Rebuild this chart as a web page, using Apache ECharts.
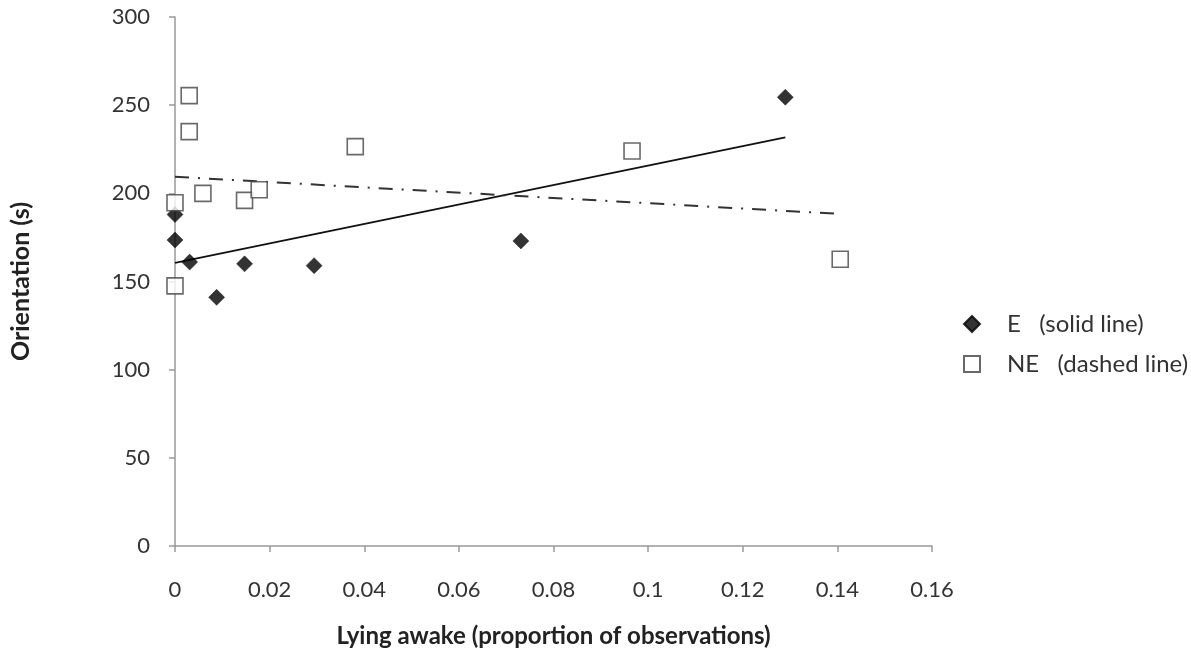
<!DOCTYPE html>
<html>
<head>
<meta charset="utf-8">
<script src="https://cdn.jsdelivr.net/npm/echarts@6/dist/echarts.min.js"></script>
<style>
html,body{margin:0;padding:0;background:#fff;}
#chart{width:1191px;height:658px;}
</style>
</head>
<body>
<div id="chart"></div>
<script>
// Data
const eX  = [0, 0, 0.0031, 0.0088, 0.0147, 0.0294, 0.0731, 0.129];
const eY  = [188, 173.5, 161, 141, 160, 159, 173, 254.5];
const neX = [0.003, 0.003, 0, 0, 0.0059, 0.0147, 0.0178, 0.0381, 0.0966, 0.1406];
const neY = [255.4, 235, 194.7, 147.5, 200, 196, 202, 226.5, 224, 162.6];
// Trend line end points
const eTrendX  = [0, 0.129];
const eTrendY  = [160.5, 231.8];
const neTrendX = [0, 0.1406];
const neTrendY = [209.4, 188.3];
const xTicks = [0, 0.02, 0.04, 0.06, 0.08, 0.1, 0.12, 0.14, 0.16];
const yTicks = [0, 50, 100, 150, 200, 250, 300];
const legendText = { 'E': 'E   (solid line)', 'NE': 'NE   (dashed line)' };

function pairs(xs, ys){ return xs.map((x,i)=>[x, ys[i]]); }

const font = 'Lato, "Open Sans", sans-serif';
const chart = echarts.init(document.getElementById('chart'));
chart.setOption({
  animation:false,
  backgroundColor:'#fff',
  textStyle:{fontFamily:font},
  grid:{left:172, right:259, top:17, bottom:112, containLabel:false},
  legend:{
    orient:'vertical', left:958, top:307, itemGap:16,
    itemWidth:16, itemHeight:16,
    data:['E','NE'],
    formatter:(n)=>legendText[n],
    textStyle:{fontSize:24, color:'#333', fontFamily:font, padding:[0,0,0,22]}
  },
  xAxis:{
    type:'value', min:0, max:0.16, interval:0.02,
    name:'Lying awake (proportion of observations)', nameLocation:'middle', nameGap:78,
    nameTextStyle:{fontSize:24, fontWeight:'bold', color:'#222', fontFamily:font},
    axisLine:{show:true, lineStyle:{color:'#999', width:1.5}},
    axisTick:{show:true, length:6, lineStyle:{color:'#999', width:1.5}},
    axisLabel:{fontSize:22, color:'#333', margin:33, fontFamily:font,
      formatter:(v)=>String(parseFloat(v.toFixed(2)))},
    splitLine:{show:false}
  },
  yAxis:{
    type:'value', min:0, max:300, interval:50,
    name:'Orientation (s)', nameLocation:'middle', nameGap:142, nameRotate:90,
    nameTextStyle:{fontSize:25, fontWeight:'bold', color:'#222', fontFamily:font},
    axisLine:{show:true, lineStyle:{color:'#999', width:1.5}},
    axisTick:{show:true, length:6, lineStyle:{color:'#999', width:1.5}},
    axisLabel:{fontSize:22, color:'#333', margin:25, fontFamily:font},
    splitLine:{show:false}
  },
  series:[
    {
      name:'E trend', type:'line', data:pairs(eTrendX,eTrendY), symbol:'none', silent:true,
      lineStyle:{color:'#111', width:1.8, type:'solid'}, z:2
    },
    {
      name:'NE trend', type:'line', data:pairs(neTrendX,neTrendY), symbol:'none', silent:true,
      lineStyle:{color:'#333', width:2, type:[14,9,2,9]}, z:2
    },
    {
      name:'E', type:'scatter', data:pairs(eX,eY), symbol:'diamond', symbolSize:16, clip:false,
      itemStyle:{color:'#000', borderColor:'#000', borderWidth:0.5}, z:3
    },
    {
      name:'NE', type:'scatter', data:pairs(neX,neY), symbol:'rect', symbolSize:16, clip:false,
      itemStyle:{color:'#fff', borderColor:'#444', borderWidth:1.6}, z:4
    }
  ]
});
</script>
</body>
</html>
